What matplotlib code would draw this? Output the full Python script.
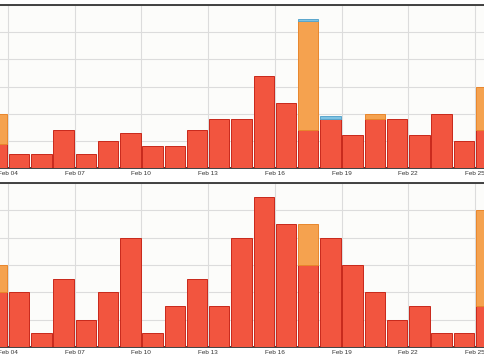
import matplotlib
matplotlib.use("Agg")
import matplotlib.pyplot as plt
import matplotlib.dates as mdates
import numpy as np
import datetime as dt

# 每日数据 (Feb 03 - Feb 25)
days = [dt.date(2014, 2, d) for d in range(3, 26)]

# 上图: 三个堆叠序列
top_red = [9, 5, 5, 14, 5, 10, 13, 8, 8, 14, 18, 18, 34, 24, 14, 18, 12, 18, 18, 12, 20, 10, 14]
top_orange = [11, 0, 0, 0, 0, 0, 0, 0, 0, 0, 0, 0, 0, 0, 40, 0, 0, 2, 0, 0, 0, 0, 16]
top_blue = [0, 0, 0, 0, 0, 0, 0, 0, 0, 0, 0, 0, 0, 0, 1, 1, 0, 0, 0, 0, 0, 0, 0]

# 下图: 两个堆叠序列
bot_red = [4, 4, 1, 5, 2, 4, 8, 1, 3, 5, 3, 8, 11, 9, 6, 8, 6, 4, 2, 3, 1, 1, 3]
bot_orange = [2, 0, 0, 0, 0, 0, 0, 0, 0, 0, 0, 0, 0, 0, 3, 0, 0, 0, 0, 0, 0, 0, 7]

tick_days = [dt.date(2014, 2, d) for d in range(4, 26, 3)]

RED, RED_EDGE = "#f2553f", "#c8281a"
ORANGE, ORANGE_EDGE = "#f5a24f", "#e8862c"
BLUE, BLUE_EDGE = "#7fc3e3", "#5aa6cc"
BG = "#fcfcfa"


def stacked(ax, series, ymax, ystep):
    x = mdates.date2num(days) + 0.04
    base = np.zeros(len(days))
    for vals, fc, ec in series:
        vals = np.array(vals, dtype=float)
        mask = vals > 0
        ax.bar(x[mask], vals[mask], width=0.92, bottom=base[mask], align="edge",
               color=fc, edgecolor=ec, linewidth=0.7, zorder=3)
        base += vals
    ax.set_facecolor(BG)
    ax.set_ylim(0, ymax)
    ax.set_yticks(np.arange(0, ymax + 1, ystep))
    ax.set_xlim(mdates.date2num(dt.date(2014, 2, 4)) - 0.36,
                mdates.date2num(dt.date(2014, 2, 25)) + 0.45)
    ax.set_xticks(mdates.date2num(tick_days))
    ax.xaxis.set_major_formatter(mdates.DateFormatter("%b %d"))
    ax.grid(True, color="#dcdcdc", linewidth=0.8, zorder=0)
    ax.tick_params(axis="x", length=0, pad=2.5, labelsize=4.6, labelcolor="#333333")
    ax.tick_params(axis="y", length=0, labelleft=False)
    for s in ("left", "right"):
        ax.spines[s].set_visible(False)
    for s in ("top", "bottom"):
        ax.spines[s].set_color("#333333")
        ax.spines[s].set_linewidth(1.3)


plt.rcParams["font.family"] = ["Liberation Sans", "DejaVu Sans"]
fig = plt.figure(figsize=(4.85, 3.6), dpi=100)
fig.patch.set_facecolor("white")

ax1 = fig.add_axes([0, 0.5333, 1, 0.4528])
stacked(ax1, [(top_red, RED, RED_EDGE), (top_orange, ORANGE, ORANGE_EDGE),
              (top_blue, BLUE, BLUE_EDGE)], 60, 10)

ax2 = fig.add_axes([0, 0.0361, 1, 0.4556])
stacked(ax2, [(bot_red, RED, RED_EDGE), (bot_orange, ORANGE, ORANGE_EDGE)], 12, 2)

fig.savefig("out.png", dpi=100)
